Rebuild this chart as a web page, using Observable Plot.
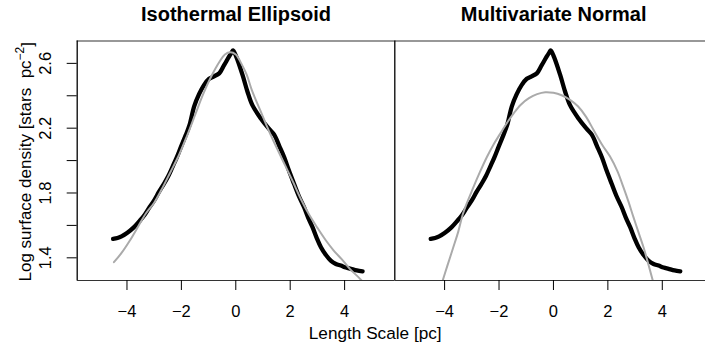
<!DOCTYPE html>
<html><head><meta charset="utf-8">
<script src="https://cdn.jsdelivr.net/npm/d3@7"></script>
<script src="https://cdn.jsdelivr.net/npm/@observablehq/plot@0.6"></script>
<style>
body{margin:0;background:#fff;}
#wrap{position:relative;width:705px;height:346px;overflow:hidden;background:#fff;}
#wrap svg{position:absolute;top:0;}
</style></head><body><div id="wrap"></div>
<script>
const panelTitles = ["Isothermal Ellipsoid", "Multivariate Normal"];
// observed log surface density profile [x (pc), log density]
const observed = [
  [-4.51,1.517],[-4.35,1.522],[-4.2,1.532],[-4.0,1.553],[-3.75,1.588],[-3.55,1.625],
  [-3.37,1.661],[-3.2,1.705],[-3.0,1.754],[-2.82,1.808],[-2.64,1.857],[-2.48,1.905],
  [-2.33,1.96],[-2.17,2.02],[-2.02,2.083],[-1.84,2.157],[-1.7,2.22],[-1.53,2.335],
  [-1.35,2.41],[-1.17,2.466],[-0.98,2.505],[-0.8,2.52],[-0.61,2.538],[-0.43,2.589],
  [-0.25,2.641],[-0.15,2.668],[-0.1,2.68],[0.02,2.64],[0.25,2.527],[0.43,2.425],
  [0.61,2.342],[0.92,2.26],[1.2,2.2],[1.41,2.16],[1.6,2.09],[1.78,2.021],[1.95,1.94],
  [2.14,1.857],[2.32,1.78],[2.51,1.712],[2.68,1.64],[2.82,1.589],[2.98,1.52],[3.13,1.465],
  [3.3,1.42],[3.49,1.383],[3.68,1.362],[3.86,1.352],[4.05,1.34],[4.23,1.332],[4.45,1.322],[4.66,1.317]
];
// isothermal ellipsoid model fit
const isothermalFit = [
  [-4.48,1.373],[-4.2,1.43],[-3.9,1.505],[-3.6,1.59],[-3.3,1.675],[-3.0,1.74],[-2.7,1.83],
  [-2.4,1.93],[-2.1,2.03],[-1.8,2.15],[-1.5,2.28],[-1.2,2.41],[-0.9,2.52],[-0.6,2.61],
  [-0.4,2.655],[-0.2,2.668],[0.0,2.655],[0.2,2.6],[0.4,2.53],[0.6,2.43],[0.9,2.31],
  [1.2,2.19],[1.5,2.08],[1.8,1.975],[2.1,1.87],[2.4,1.76],[2.7,1.665],[3.0,1.585],
  [3.3,1.51],[3.6,1.445],[3.9,1.39],[4.2,1.33],[4.45,1.29],[4.66,1.254]
];
// multivariate normal model fit
const normalFit = [
  [-4.07,1.26],[-3.9,1.35],[-3.68,1.465],[-3.5,1.56],[-3.31,1.68],[-2.94,1.836],[-2.7,1.93],
  [-2.45,2.021],[-2.2,2.1],[-1.96,2.165],[-1.65,2.247],[-1.47,2.29],[-1.2,2.345],[-0.9,2.385],
  [-0.6,2.41],[-0.3,2.422],[0.0,2.418],[0.3,2.403],[0.61,2.375],[0.9,2.335],[1.2,2.27],
  [1.47,2.19],[1.8,2.095],[2.08,2.025],[2.35,1.935],[2.57,1.836],[2.76,1.745],[2.94,1.651],
  [3.12,1.56],[3.31,1.465],[3.48,1.365],[3.65,1.26]
];
const xTicks = [-4, -2, 0, 2, 4];
const xTickLabels = ["−4", "−2", "0", "2", "4"];
const yTicks = [1.4, 1.6, 1.8, 2.0, 2.2, 2.4, 2.6];
const yLabelTicks = [1.4, 1.8, 2.2, 2.6];
const yTickLabels = ["1.4", "1.8", "2.2", "2.6"];
const xLabel = "Length Scale [pc]";
const yLabelParts = ["Log surface density [stars  pc", "−2", "]"];

const xDomain = [-5.83, 5.845];
const yDomain = [1.26, 2.738];
const toObj = a => a.map(([x, y]) => ({x, y}));
const obs = toObj(observed);
const FONT = "'Liberation Sans', Arial, Helvetica, sans-serif";

function panel(title, model, opts) {
  const marks = [
    Plot.ruleY([yDomain[1]], {stroke: "#333", strokeWidth: 1.2}),
    Plot.ruleY([yDomain[0]], {stroke: "#333", strokeWidth: 1.2}),
    Plot.ruleX([xDomain[0]], {stroke: "#000", strokeWidth: 1.3}),
    Plot.line(obs, {x: "x", y: "y", stroke: "#000", strokeWidth: 4.3, curve: "catmull-rom",
      strokeLinecap: "round", strokeLinejoin: "round", clip: true}),
    Plot.line(toObj(model), {x: "x", y: "y", stroke: "#aaaaaa", strokeWidth: 2, curve: "catmull-rom", clip: true}),
    Plot.axisX({ticks: xTicks, tickFormat: d => xTickLabels[xTicks.indexOf(d)], tickSize: 10,
      tickPadding: 15, fontSize: 16.5, label: null, stroke: "#000"}),
    Plot.text([title], {frameAnchor: "top", dy: -19.8, fontWeight: "bold", fontSize: 20, lineAnchor: "bottom"})
  ];
  if (opts.yAxis) {
    marks.push(
      Plot.axisY({ticks: yTicks, tickSize: 10, tickFormat: () => "", label: null}),
      Plot.text(yLabelTicks, {y: d => d, text: (d, i) => yTickLabels[i], frameAnchor: "left", dx: -26.5,
        rotate: -90, textAnchor: "middle", lineAnchor: "bottom", fontSize: 16.5}),
      Plot.text([yLabelParts.join("")], {frameAnchor: "left", dx: -46.5, dy: 1, rotate: -90,
        textAnchor: "middle", lineAnchor: "bottom", fontSize: 17}),
      Plot.text([xLabel], {frameAnchor: "bottom-right", dx: -19.6, dy: 58.3, textAnchor: "middle",
        lineAnchor: "bottom", fontSize: 17.2})
    );
  }
  const svg = Plot.plot({
    width: opts.width, height: 346,
    marginLeft: opts.marginLeft, marginRight: opts.marginRight, marginTop: 40.5, marginBottom: 66,
    x: {domain: xDomain},
    y: {domain: yDomain, axis: opts.yAxis ? undefined : null},
    style: {background: "transparent", overflow: "visible", fontFamily: FONT, color: "#000"},
    marks
  });
  svg.style.left = opts.left + "px";
  return svg;
}

const wrap = document.getElementById("wrap");
const left = panel(panelTitles[0], isothermalFit, {left: 0, width: 395, marginLeft: 76.7, marginRight: 0.7, yAxis: true});
const right = panel(panelTitles[1], normalFit, {left: 380, width: 332, marginLeft: 14.3, marginRight: 0, yAxis: false});
wrap.appendChild(left);
wrap.appendChild(right);

// superscript in the y-axis label
d3.select(left).selectAll("text").filter(function () { return this.textContent === yLabelParts.join(""); })
  .each(function () {
    const t = d3.select(this);
    t.text(null);
    t.append("tspan").text(yLabelParts[0]);
    t.append("tspan").attr("dy", "-0.55em").attr("font-size", "12").text(yLabelParts[1]);
    t.append("tspan").attr("dy", "0.55em").text(yLabelParts[2]);
  });
</script></body></html>
